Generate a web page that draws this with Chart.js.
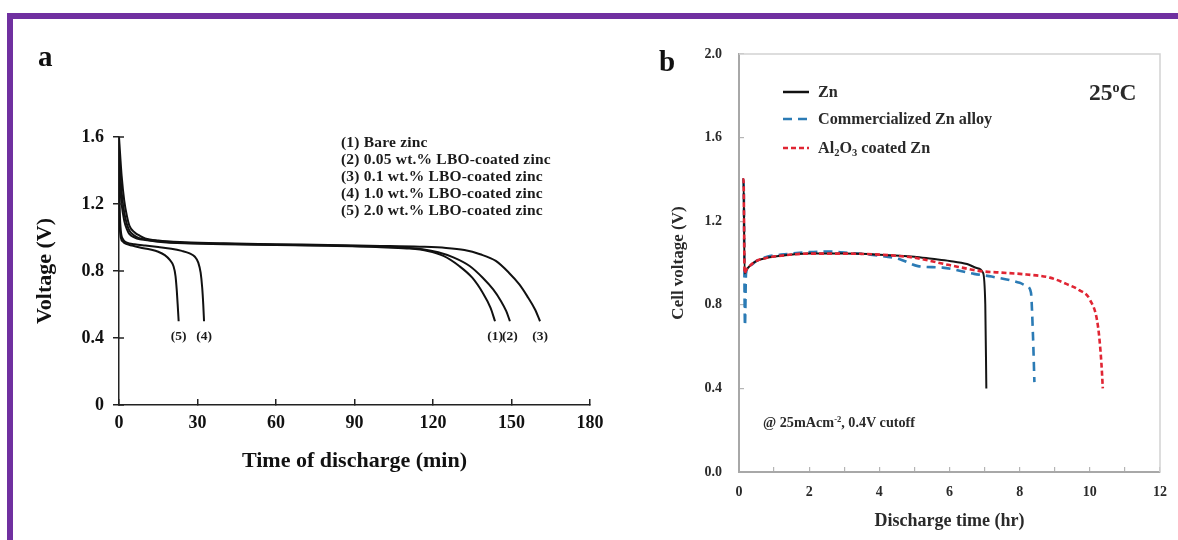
<!DOCTYPE html>
<html><head><meta charset="utf-8">
<script src="https://cdn.jsdelivr.net/npm/chart.js@4.4.0/dist/chart.umd.min.js"></script>
<style>
html,body{margin:0;padding:0;background:#fff;}
#wrap{position:relative;width:1178px;height:540px;overflow:hidden;background:#fff;font-family:"Liberation Serif","Times New Roman",serif;font-weight:bold;}
#frameTop{position:absolute;left:7px;top:13px;width:1171px;height:6px;background:#7030a0;}
#frameLeft{position:absolute;left:7px;top:13px;width:6px;height:527px;background:#7030a0;}
canvas{position:absolute;top:0;}
#ca{left:0;}
#cb{left:640px;}
.t{position:absolute;white-space:nowrap;line-height:1;}
.row{position:absolute;left:783px;height:20px;}
.row svg{position:absolute;left:0;top:7px;}
.row span{position:absolute;left:35px;top:2px;font-size:16.2px;line-height:1;color:#2a2a2a;white-space:nowrap;}
sub{font-size:0.65em;vertical-align:-0.25em;line-height:0;}
sup{font-size:0.6em;vertical-align:0.55em;line-height:0;}
</style></head>
<body>
<div id="wrap">
  <canvas id="ca" width="640" height="540"></canvas>
  <canvas id="cb" width="560" height="540"></canvas>
  <div id="frameTop"></div>
  <div id="frameLeft"></div>

  <div class="t" style="left:38px;top:42px;font-size:29px;color:#111;">a</div>
  <div class="t" style="left:659px;top:47px;font-size:29px;color:#111;">b</div>

  <div class="t" style="left:341px;top:133px;font-size:15.5px;line-height:17px;letter-spacing:0.2px;color:#1a1a1a;">
    (1) Bare zinc<br>(2) 0.05 wt.% LBO-coated zinc<br>(3) 0.1 wt.% LBO-coated zinc<br>(4) 1.0 wt.% LBO-coated zinc<br>(5) 2.0 wt.% LBO-coated zinc
  </div>

  <div class="row" style="top:82px;"><svg width="26" height="6"><line x1="0" y1="3" x2="26" y2="3" stroke="#111" stroke-width="2.5"/></svg><span>Zn</span></div>
  <div class="row" style="top:109px;"><svg width="26" height="6"><line x1="0" y1="3" x2="26" y2="3" stroke="#2b7bb5" stroke-width="2.5" stroke-dasharray="9,6"/></svg><span>Commercialized Zn alloy</span></div>
  <div class="row" style="top:138px;"><svg width="26" height="6"><line x1="0" y1="3" x2="26" y2="3" stroke="#e02533" stroke-width="2.5" stroke-dasharray="5,3"/></svg><span>Al<sub>2</sub>O<sub>3</sub> coated Zn</span></div>

  <div class="t" style="left:1089px;top:81px;font-size:23.5px;color:#2a2a2a;">25<sup>o</sup>C</div>
  <div class="t" style="left:763px;top:415px;font-size:14.2px;color:#2a2a2a;">@ 25mAcm<sup>-2</sup>, 0.4V cutoff</div>
</div>

<script>
const FONT = '"Liberation Serif","Times New Roman",serif';

// ---------- Panel a : Time of discharge (min) vs Voltage (V) ----------
const aTime1 = [0,0.5,1,2,3,4,6,8,10,15,25,40,60,80,100,110,118,124,130,135,139,142,143.7];
const aVolt1 = [1.45,1.3,1.2,1.1,1.05,1.02,1.0,0.99,0.985,0.975,0.965,0.96,0.955,0.95,0.942,0.935,0.92,0.89,0.83,0.76,0.67,0.58,0.5];
const aTime2 = [0,0.5,1,2,3,4,6,8,10,15,25,40,60,80,100,110,116,122,128,134,139,143,146,148,149.4];
const aVolt2 = [1.52,1.38,1.27,1.15,1.08,1.04,1.01,0.995,0.988,0.978,0.968,0.962,0.957,0.952,0.945,0.938,0.93,0.912,0.88,0.83,0.76,0.69,0.62,0.56,0.5];
const aTime3 = [0,0.5,1,2,3,4,6,8,10,15,25,40,60,80,100,115,125,132,138,144,149,153,156,159,160.9];
const aVolt3 = [1.6,1.48,1.37,1.22,1.13,1.07,1.03,1.01,0.995,0.982,0.972,0.965,0.96,0.955,0.95,0.945,0.938,0.925,0.9,0.86,0.79,0.72,0.65,0.57,0.5];
const aTime4 = [0,0.3,0.7,1.5,3,6,10,15,20,24,27,29,30.3,31.2,31.8,32.2,32.5];
const aVolt4 = [1.38,1.15,1.04,0.99,0.97,0.96,0.952,0.943,0.933,0.92,0.905,0.885,0.85,0.79,0.7,0.6,0.5];
const aTime5 = [0,0.3,0.7,1.5,3,5,8,12,15,17.5,19.5,20.8,21.6,22.1,22.5,22.8];
const aVolt5 = [1.2,1.06,1.0,0.975,0.96,0.952,0.94,0.928,0.915,0.895,0.865,0.83,0.77,0.68,0.58,0.5];
const aCurveLabels = ['(1)','(2)','(3)','(4)','(5)'];
const aXTicks = [0,30,60,90,120,150,180];
const aXLabels = ['0','30','60','90','120','150','180'];
const aYTicks = [0,0.4,0.8,1.2,1.6];
const aYLabels = ['0','0.4','0.8','1.2','1.6'];

// ---------- Panel b : Discharge time (hr) vs Cell voltage (V) ----------
const bTimeZn = [0.1,0.13,0.16,0.2,0.3,0.5,0.8,1.2,2,3,4,5,5.5,6,6.5,6.8,6.95,7.02,7.05];
const bVoltZn = [1.40,1.40,0.95,0.965,0.985,1.01,1.025,1.035,1.045,1.045,1.04,1.03,1.02,1.01,0.995,0.975,0.955,0.8,0.40];
const bTimeAlloy = [0.1,0.13,0.17,0.2,0.3,0.5,0.8,1.2,2,2.5,3,4,4.6,5.1,5.8,6.7,7.2,8.0,8.2,8.32,8.38,8.42];
const bVoltAlloy = [1.40,1.40,0.70,0.95,0.985,1.01,1.03,1.04,1.052,1.055,1.05,1.035,1.017,0.985,0.978,0.948,0.935,0.905,0.89,0.86,0.65,0.43];
const bTimeAl2O3 = [0.1,0.13,0.16,0.2,0.3,0.5,0.8,1.2,2,3,4,5,6,6.95,7.4,8.2,8.86,9.33,9.7,10.0,10.23,10.33,10.37];
const bVoltAl2O3 = [1.40,1.40,0.95,0.965,0.985,1.01,1.025,1.035,1.045,1.045,1.04,1.025,0.99,0.96,0.955,0.945,0.93,0.90,0.87,0.825,0.70,0.52,0.40];
const bXTicks = [0,1,2,3,4,5,6,7,8,9,10,11,12];
const bXLabels = ['0','','2','','4','','6','','8','','10','','12'];
const bYTicks = [0,0.4,0.8,1.2,1.6,2.0];
const bYLabels = ['0.0','0.4','0.8','1.2','1.6','2.0'];

function pts(xs, ys){ return xs.map((x,i)=>({x:x, y:ys[i]})); }

const aSeries = [[aTime1,aVolt1],[aTime2,aVolt2],[aTime3,aVolt3],[aTime4,aVolt4],[aTime5,aVolt5]];

const curveLabelPlugin = {
  id:'curveLabels',
  afterDatasetsDraw(chart){
    const ctx = chart.ctx, xs = chart.scales.x, ys = chart.scales.y;
    ctx.save();
    // inner halves of the y-axis ticks (ticks cross the axis)
    ctx.strokeStyle = '#222'; ctx.lineWidth = 1.5;
    ys.ticks.forEach(t=>{
      const y = ys.getPixelForValue(t.value);
      ctx.beginPath(); ctx.moveTo(xs.left, y); ctx.lineTo(xs.left + 5, y); ctx.stroke();
    });
    ctx.font = 'bold 13.5px ' + FONT;
    ctx.fillStyle = '#1a1a1a';
    ctx.textAlign = 'center';
    ctx.textBaseline = 'middle';
    aSeries.forEach((s,i)=>{
      const t = s[0][s[0].length-1];
      ctx.fillText(aCurveLabels[i], xs.getPixelForValue(t), ys.getPixelForValue(0.41));
    });
    ctx.restore();
  }
};

new Chart(document.getElementById('ca'), {
  type:'scatter',
  data:{ datasets: aSeries.map(s=>({
    data: pts(s[0], s[1]), showLine:true, borderColor:'#111', borderWidth:2,
    pointRadius:0, cubicInterpolationMode:'monotone', fill:false
  }))},
  options:{
    responsive:false, animation:false, devicePixelRatio:1,
    layout:{padding:{left:20, top:137, right:50, bottom:63}},
    plugins:{legend:{display:false}, tooltip:{enabled:false}},
    scales:{
      x:{type:'linear', min:0, max:180,
        afterBuildTicks:(s)=>{ s.ticks = aXTicks.map(v=>({value:v})); },
        afterFit:(s)=>{ s.height = 72; },
        grid:{drawOnChartArea:false, tickLength:-6, color:'#222', lineWidth:1.5},
        border:{color:'#222', width:1.5},
        ticks:{color:'#111', font:{family:FONT, size:18, weight:'bold'}, padding:14, maxRotation:0, autoSkip:false,
          callback:(v,i)=>aXLabels[i]},
        title:{display:true, text:'Time of discharge (min)', color:'#111', font:{family:FONT, size:22, weight:'bold'}, padding:{top:0,bottom:2}}
      },
      y:{type:'linear', min:0, max:1.6,
        afterBuildTicks:(s)=>{ s.ticks = aYTicks.map(v=>({value:v})); },
        afterFit:(s)=>{ s.width = 99; },
        grid:{drawOnChartArea:false, tickLength:6, color:'#222', lineWidth:1.5},
        border:{color:'#222', width:1.5},
        ticks:{color:'#111', font:{family:FONT, size:18, weight:'bold'}, padding:9, autoSkip:false,
          callback:(v,i)=>aYLabels[i]},
        title:{display:true, text:'Voltage (V)', color:'#111', font:{family:FONT, size:22, weight:'bold'}, padding:{top:12,bottom:0}}
      }
    }
  },
  plugins:[curveLabelPlugin]
});

const boxPlugin = {
  id:'box',
  beforeDatasetsDraw(chart){
    const {ctx, chartArea:a} = chart;
    ctx.save();
    ctx.strokeStyle = '#d2d2d2';
    ctx.lineWidth = 1.5;
    ctx.beginPath();
    ctx.moveTo(a.left, a.top); ctx.lineTo(a.right, a.top); ctx.lineTo(a.right, a.bottom);
    ctx.stroke();
    ctx.restore();
  }
};

const bSeries = [
  {t:bTimeAl2O3, v:bVoltAl2O3, color:'#e02533', dash:[5,3], w:2.6},
  {t:bTimeZn, v:bVoltZn, color:'#151515', dash:[], w:2},
  {t:bTimeAlloy, v:bVoltAlloy, color:'#2b7bb5', dash:[9,6], w:2.6}
];

new Chart(document.getElementById('cb'), {
  type:'scatter',
  data:{ datasets: bSeries.map(s=>({
    data: pts(s.t, s.v), showLine:true, borderColor:s.color, borderWidth:s.w, borderDash:s.dash,
    pointRadius:0, cubicInterpolationMode:'monotone', fill:false
  }))},
  options:{
    responsive:false, animation:false, devicePixelRatio:1,
    layout:{padding:{left:20, top:54, right:40, bottom:8}},
    plugins:{legend:{display:false}, tooltip:{enabled:false}},
    scales:{
      x:{type:'linear', min:0, max:12,
        afterBuildTicks:(s)=>{ s.ticks = bXTicks.map(v=>({value:v})); },
        afterFit:(s)=>{ s.height = 60; },
        grid:{drawOnChartArea:false, tickLength:-5, color:'#b5b5b5', lineWidth:1.2},
        border:{color:'#a8a8a8', width:2},
        ticks:{color:'#2a2a2a', font:{family:FONT, size:14, weight:'bold'}, padding:17, maxRotation:0, autoSkip:false,
          callback:(v,i)=>bXLabels[i]},
        title:{display:true, text:'Discharge time (hr)', color:'#2a2a2a', font:{family:FONT, size:18, weight:'bold'}, padding:{top:0,bottom:0}}
      },
      y:{type:'linear', min:0, max:2.0,
        afterBuildTicks:(s)=>{ s.ticks = bYTicks.map(v=>({value:v})); },
        afterFit:(s)=>{ s.width = 79; },
        grid:{drawOnChartArea:false, tickLength:-5, color:'#b5b5b5', lineWidth:1.2},
        border:{color:'#a8a8a8', width:2},
        ticks:{color:'#2a2a2a', font:{family:FONT, size:14, weight:'bold'}, padding:22, autoSkip:false,
          callback:(v,i)=>bYLabels[i]},
        title:{display:true, text:'Cell voltage (V)', color:'#2a2a2a', font:{family:FONT, size:17, weight:'bold'}, padding:{top:8,bottom:0}}
      }
    }
  },
  plugins:[boxPlugin]
});
</script>
</body></html>
